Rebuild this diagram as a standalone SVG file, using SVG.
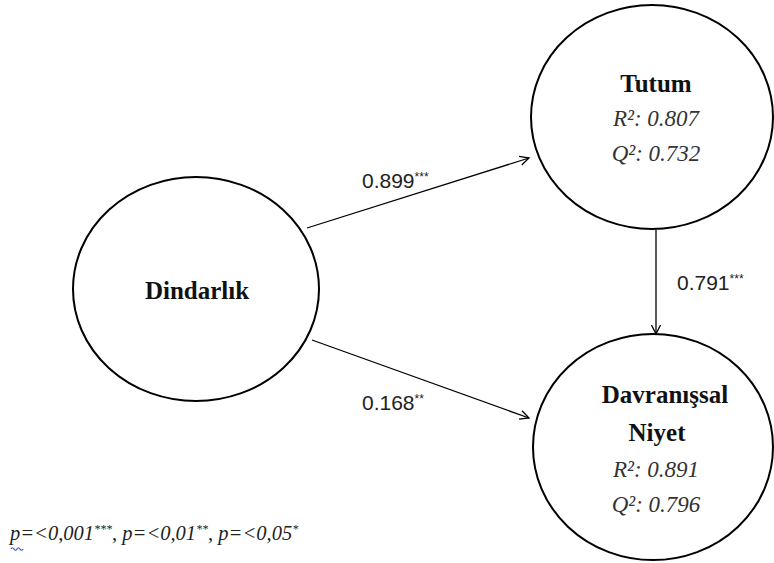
<svg xmlns="http://www.w3.org/2000/svg" width="774" height="563" viewBox="0 0 774 563">
<style>
.node{fill:#fff;stroke:#000;stroke-width:2}
.title{font-family:"Liberation Serif",serif;font-weight:bold;font-size:25px;fill:#111;text-anchor:middle}
.stat{font-family:"Liberation Serif",serif;font-style:italic;font-size:23px;fill:#333;text-anchor:middle}
.lbl{font-family:"Liberation Sans",sans-serif;font-size:21px;fill:#222}
.sup{font-size:12px}
.conn{stroke:#000;stroke-width:1.3;fill:none;marker-end:url(#arr)}
.note{font-family:"Liberation Serif",serif;font-style:italic;font-size:20.5px;fill:#222}
</style>
<defs>
<marker id="arr" markerWidth="12" markerHeight="12" refX="10" refY="6" orient="auto" markerUnits="userSpaceOnUse">
<path d="M1,1.5 L10,6 L1,10.5" fill="none" stroke="#000" stroke-width="1.3"/>
</marker>
</defs>
<rect width="774" height="563" fill="#fff"/>
<g id="connectors">
<line class="conn" x1="307" y1="228" x2="529" y2="158"/>
<line class="conn" x1="312" y1="340" x2="529" y2="418"/>
<line class="conn" x1="656" y1="230" x2="656" y2="334"/>
</g>
<g id="labels">
<text class="lbl" x="362" y="188">0.899<tspan class="sup" dy="-7">***</tspan></text>
<text class="lbl" x="362" y="410">0.168<tspan class="sup" dy="-7">**</tspan></text>
<text class="lbl" x="677" y="290">0.791<tspan class="sup" dy="-7">***</tspan></text>
</g>
<g id="dindarlik">
<ellipse class="node" cx="196" cy="289" rx="123" ry="112"/>
<text class="title" x="197" y="299">Dindarlık</text>
</g>
<g id="tutum">
<ellipse class="node" cx="652" cy="117" rx="121" ry="112"/>
<text class="title" x="656" y="92">Tutum</text>
<text class="stat" x="656" y="126">R²: 0.807</text>
<text class="stat" x="656" y="161">Q²: 0.732</text>
</g>
<g id="davranissal">
<ellipse class="node" cx="653" cy="447" rx="120" ry="113"/>
<text class="title" x="665" y="403">Davranışsal</text>
<text class="title" x="657" y="441">Niyet</text>
<text class="stat" x="656" y="477">R²: 0.891</text>
<text class="stat" x="656" y="512">Q²: 0.796</text>
</g>
<g id="footnote">
<text class="note" x="10" y="540">p=&lt;0,001<tspan class="sup" dy="-7">***</tspan><tspan dy="7">, p=&lt;0,01</tspan><tspan class="sup" dy="-7">**</tspan><tspan dy="7">, p=&lt;0,05</tspan><tspan class="sup" dy="-7">*</tspan></text>
<path d="M11,549 q1.5,-2.5 3,0 t3,0 t3,0 t3,0" fill="none" stroke="#3355cc" stroke-width="1.2"/>
</g>
</svg>
